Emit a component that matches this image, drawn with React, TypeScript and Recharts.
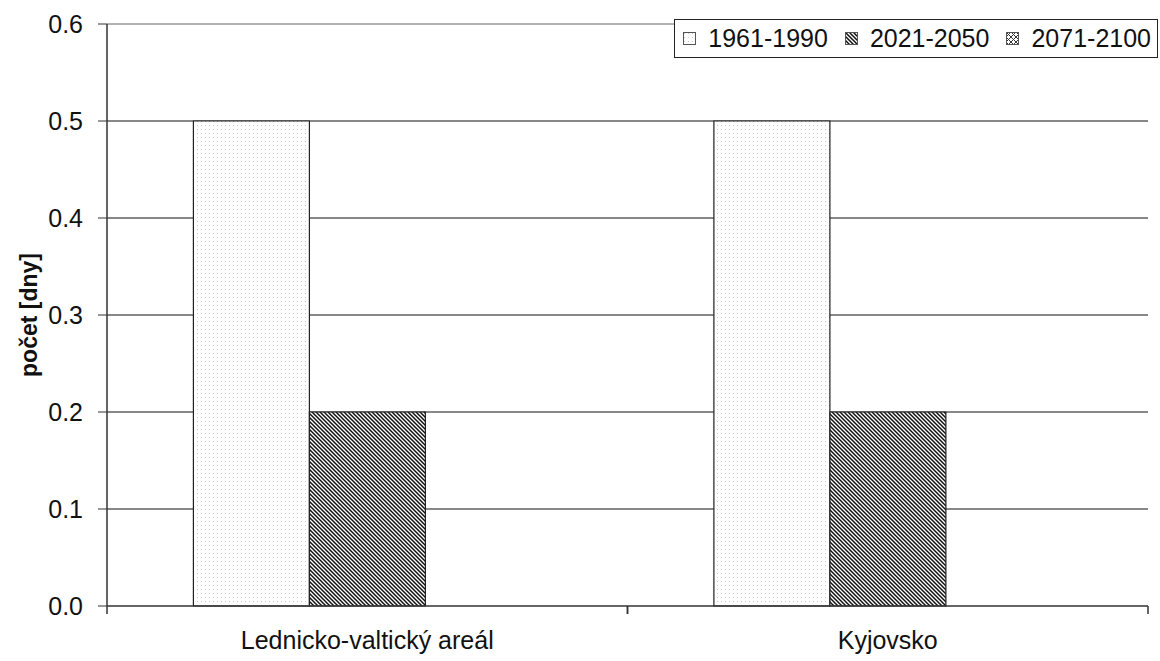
import { BarChart, Bar, XAxis, YAxis, CartesianGrid, ReferenceLine } from 'recharts'

const categories = ['Lednicko-valtický areál', 'Kyjovsko']
const seriesNames = ['1961-1990', '2021-2050', '2071-2100']
const values1961 = [0.5, 0.5]
const values2021 = [0.2, 0.2]
const values2071 = [0, 0]
const yTicks = [0, 0.1, 0.2, 0.3, 0.4, 0.5, 0.6]

const seriesValues = [values1961, values2021, values2071]
const patternIds = ['pat-dots', 'pat-diag', 'pat-cross']

const data = categories.map((name, i) => {
  const row: Record<string, string | number> = { name }
  seriesNames.forEach((s, k) => {
    row[s] = seriesValues[k][i]
  })
  return row
})

const FONT = '"Liberation Sans", Arial, sans-serif'

function Patterns() {
  return (
    <defs>
      <pattern id="pat-dots" width="4" height="4" patternUnits="userSpaceOnUse">
        <rect width="4" height="4" fill="#fff" />
        <rect x="1" y="1" width="1" height="1" fill="#c8c8c8" />
      </pattern>
      <pattern id="pat-diag" width="4" height="4" patternUnits="userSpaceOnUse">
        <rect width="4" height="4" fill="#fff" />
        <path d="M-1,-1 L5,5 M-1,3 L1,5 M3,-1 L5,1" stroke="#111" strokeWidth="1.5" />
      </pattern>
      <pattern id="pat-cross" width="5" height="5" patternUnits="userSpaceOnUse">
        <rect width="5" height="5" fill="#fff" />
        <path d="M0,0 L5,5 M5,0 L0,5" stroke="#333" strokeWidth="1" />
      </pattern>
    </defs>
  )
}

// category label centred in the band, tick marks at the band edges
function CategoryTick({ x, y, payload }: any) {
  const half = payload?.offset ?? 0
  return (
    <g>
      <line x1={x - half} y1={y} x2={x - half} y2={y + 8} stroke="#333" strokeWidth={1.5} />
      <line x1={x + half} y1={y} x2={x + half} y2={y + 8} stroke="#333" strokeWidth={1.5} />
      <text x={x} y={y} dy={43} textAnchor="middle" fontSize={25} fontFamily={FONT} fill="#111">
        {payload.value}
      </text>
    </g>
  )
}

function LegendBox() {
  return (
    <div
      style={{
        position: 'absolute',
        top: 19,
        right: 2,
        height: 39,
        boxSizing: 'border-box',
        display: 'flex',
        alignItems: 'center',
        border: '1.5px solid #222',
        background: '#fff',
        padding: '0 6px 0 8px',
        fontFamily: FONT,
        fontSize: 25,
        color: '#111',
        whiteSpace: 'nowrap',
      }}
    >
      {seriesNames.map((s, k) => (
        <span key={s} style={{ display: 'flex', alignItems: 'center', marginLeft: k ? 17 : 0 }}>
          <svg width={13} height={13} style={{ marginRight: 12 }}>
            <rect x={0.5} y={0.5} width={12} height={12} fill={`url(#${patternIds[k]})`} stroke="#555" />
          </svg>
          {s}
        </span>
      ))}
    </div>
  )
}

export default function App() {
  return (
    <div style={{ position: 'absolute', left: 0, top: 0, width: 1160, height: 661, background: '#fff' }}>
      <BarChart
        width={1160}
        height={661}
        data={data}
        margin={{ top: 24, right: 12, bottom: 0, left: 0 }}
        barCategoryGap="16.6%"
        barGap={0}
      >
        <Patterns />
        <CartesianGrid
          horizontal
          vertical={false}
          stroke="#111"
          horizontalValues={[0.1, 0.2, 0.3, 0.4, 0.5]}
        />
        <ReferenceLine y={0.6} stroke="#999" strokeWidth={1.5} />
        <XAxis
          dataKey="name"
          height={55}
          axisLine={{ stroke: '#333', strokeWidth: 1.5 }}
          tickLine={false}
          tickSize={0}
          tickMargin={0}
          tick={<CategoryTick />}
          interval={0}
        />
        <YAxis
          width={107}
          domain={[0, 0.6]}
          ticks={yTicks}
          tickFormatter={(v: number) => v.toFixed(1)}
          axisLine={{ stroke: '#333', strokeWidth: 1.5 }}
          tickLine={{ stroke: '#333' }}
          tickSize={9}
          tickMargin={15}
          tick={{ fontSize: 25, fontFamily: FONT, fill: '#111' }}
          label={{
            value: 'počet [dny]',
            angle: -90,
            position: 'insideLeft',
            offset: 29,
            style: { fontSize: 23, fontWeight: 'bold', fontFamily: FONT, fill: '#111', textAnchor: 'middle' },
          }}
        />
        <YAxis
          yAxisId="border"
          orientation="right"
          width={0}
          domain={[0, 0.6]}
          tick={false}
          tickLine={false}
          axisLine={{ stroke: '#999', strokeWidth: 1.5 }}
        />
        {seriesNames.map((s, k) => (
          <Bar
            key={s}
            dataKey={s}
            fill={`url(#${patternIds[k]})`}
            stroke="#222"
            strokeWidth={1.2}
            isAnimationActive={false}
          />
        ))}
      </BarChart>
      <LegendBox />
    </div>
  )
}
